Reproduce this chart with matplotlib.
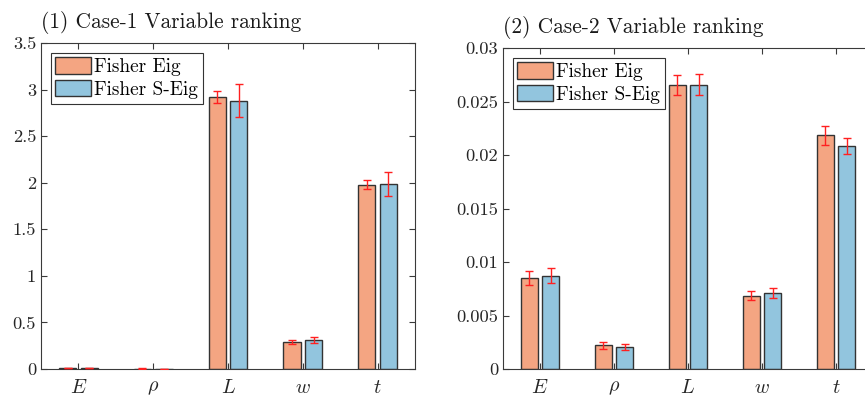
import numpy as np
import matplotlib
matplotlib.use("Agg")
import matplotlib.pyplot as plt

plt.rcParams['font.family'] = 'serif'
plt.rcParams['font.serif'] = ['cmr10']
plt.rcParams['mathtext.fontset'] = 'cm'
plt.rcParams['axes.formatter.use_mathtext'] = True

variables = [r'$E$', r'$\rho$', r'$L$', r'$w$', r'$t$']
labels = ['Fisher Eig', 'Fisher S-Eig']

# case 1
eig1 = [0.010, 0.004, 2.92, 0.29, 1.98]
eig1_err = [0.004, 0.004, 0.06, 0.02, 0.045]
seig1 = [0.010, 0.001, 2.88, 0.31, 1.99]
seig1_err = [0.004, 0.002, 0.175, 0.035, 0.13]

# case 2
eig2 = [0.00853, 0.00221, 0.02657, 0.00685, 0.02184]
eig2_err = [0.00065, 0.00030, 0.00095, 0.00043, 0.00088]
seig2 = [0.00872, 0.00206, 0.02657, 0.00710, 0.02084]
seig2_err = [0.00070, 0.00025, 0.00100, 0.00045, 0.00078]

c_eig = '#F4A582'
c_seig = '#92C5DE'
axcol = '#3a3a3a'


def ranking(ax, a, a_err, b, b_err, ylim, yticks, ylabels, title):
    x = np.arange(1, len(variables) + 1)
    w = 0.23
    off = 0.145
    ax.bar(x - off, a, w, color=c_eig, edgecolor='#333333', linewidth=1.0,
           label=labels[0], zorder=2)
    ax.bar(x + off, b, w, color=c_seig, edgecolor='#333333', linewidth=1.0,
           label=labels[1], zorder=2)
    ax.errorbar(x - off, a, yerr=a_err, fmt='none', ecolor='#ff2020',
                elinewidth=1.0, capsize=2.6, capthick=1.0, zorder=3)
    ax.errorbar(x + off, b, yerr=b_err, fmt='none', ecolor='#ff2020',
                elinewidth=1.0, capsize=2.6, capthick=1.0, zorder=3)
    ax.set_xlim(0.5, 5.5)
    ax.set_ylim(*ylim)
    ax.set_xticks(x)
    ax.set_xticklabels(variables, fontsize=14.5)
    ax.set_yticks(yticks)
    ax.set_yticklabels(ylabels, fontsize=13.3)
    ax.tick_params(direction='in', top=True, right=True, length=4,
                   width=0.8, colors=axcol, labelcolor='#262626')
    ax.tick_params(axis='x', pad=7)
    for s in ax.spines.values():
        s.set_color(axcol)
        s.set_linewidth(0.8)
    ax.set_title(title, loc='left', fontsize=15.4, pad=11, color='#1a1a1a')
    leg = ax.legend(loc='upper left', fontsize=13.9, fancybox=False,
                    framealpha=1, edgecolor='#333333', handlelength=1.85,
                    handleheight=0.9, handletextpad=0.15, labelspacing=0.2,
                    borderpad=0.25, borderaxespad=0.5)
    leg.get_frame().set_linewidth(0.8)
    for h in leg.legend_handles:
        h.set_edgecolor('#333333')


fig = plt.figure(figsize=(8.65, 4), dpi=100)
ax1 = fig.add_axes([0.0474, 0.0775, 0.4324, 0.815])
ax2 = fig.add_axes([0.5815, 0.0775, 0.4277, 0.8025])

ranking(ax1, eig1, eig1_err, seig1, seig1_err, (0, 3.5),
        [0, 0.5, 1, 1.5, 2, 2.5, 3, 3.5],
        ['0', '0.5', '1', '1.5', '2', '2.5', '3', '3.5'],
        '(1) Case-1 Variable ranking')
ranking(ax2, eig2, eig2_err, seig2, seig2_err, (0, 0.03),
        [0, 0.005, 0.01, 0.015, 0.02, 0.025, 0.03],
        ['0', '0.005', '0.01', '0.015', '0.02', '0.025', '0.03'],
        '(2) Case-2 Variable ranking')

fig.savefig('out.png', dpi=100)
